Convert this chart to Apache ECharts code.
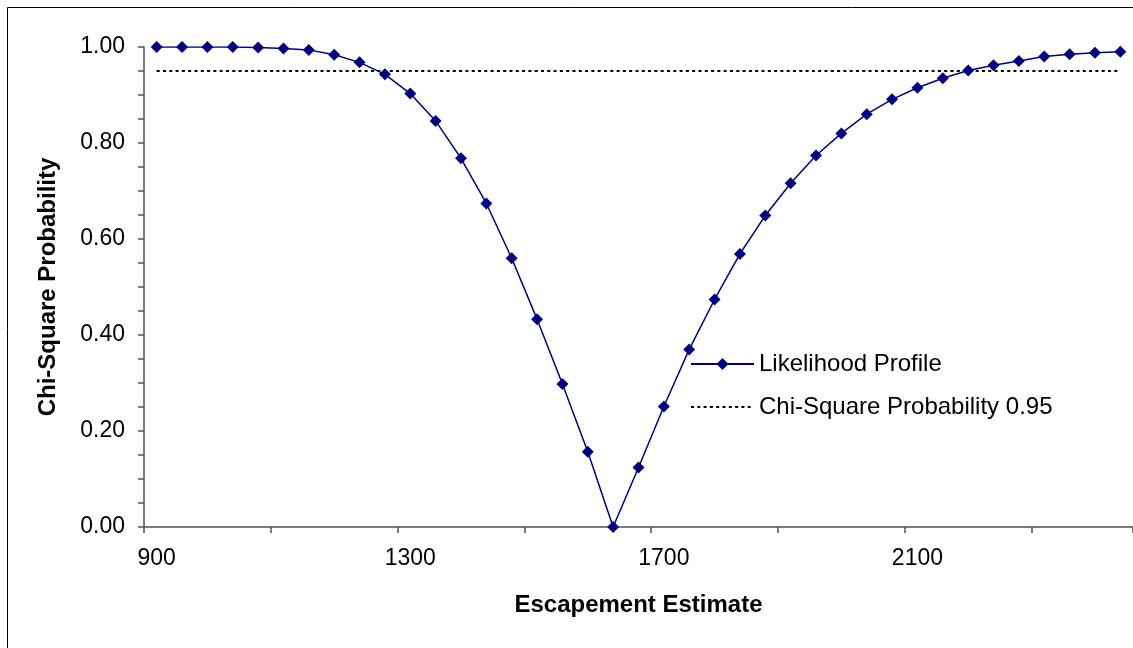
<!DOCTYPE html>
<html>
<head>
<meta charset="utf-8">
<title>Likelihood Profile</title>
<script src="https://cdn.jsdelivr.net/npm/echarts@6/dist/echarts.min.js"></script>
<style>
  html, body { margin: 0; padding: 0; background: #fff; }
  #chart { width: 1133px; height: 648px; }
</style>
</head>
<body>
<div id="chart"></div>
<script>
// Escapement estimates (category axis)
const categories = [
  '900', '940', '980', '1020', '1060', '1100', '1140', '1180', '1220', '1260',
  '1300', '1340', '1380', '1420', '1460', '1500', '1540', '1580', '1620', '1660',
  '1700', '1740', '1780', '1820', '1860', '1900', '1940', '1980', '2020', '2060',
  '2100', '2140', '2180', '2220', '2260', '2300', '2340', '2380', '2420'
];

// Chi-square probability of each escapement estimate
const likelihoodProfile = [
  1.000, 1.000, 1.000, 1.000, 0.999, 0.997, 0.994, 0.984, 0.968, 0.943,
  0.903, 0.846, 0.768, 0.674, 0.560, 0.433, 0.298, 0.157, 0.000, 0.124,
  0.251, 0.370, 0.474, 0.569, 0.649, 0.716, 0.774, 0.820, 0.860, 0.891,
  0.915, 0.935, 0.951, 0.962, 0.971, 0.980, 0.985, 0.988, 0.990
];

// 0.95 reference level
const chiSquare95 = [
  0.95, 0.95, 0.95, 0.95, 0.95, 0.95, 0.95, 0.95, 0.95, 0.95,
  0.95, 0.95, 0.95, 0.95, 0.95, 0.95, 0.95, 0.95, 0.95, 0.95,
  0.95, 0.95, 0.95, 0.95, 0.95, 0.95, 0.95, 0.95, 0.95, 0.95,
  0.95, 0.95, 0.95, 0.95, 0.95, 0.95, 0.95, 0.95, 0.95
];

const yTickLabels = ['0.00', '0.20', '0.40', '0.60', '0.80', '1.00'];

const FONT = '"Liberation Sans", Arial, sans-serif';
const AXIS_COLOR = '#505050';

const chart = echarts.init(document.getElementById('chart'), null, { renderer: 'canvas' });

chart.setOption({
  backgroundColor: '#ffffff',
  animation: false,
  graphic: [{
    type: 'rect',
    shape: { x: 7.5, y: 7.5, width: 1200, height: 700 },
    style: { fill: 'none', stroke: '#000000', lineWidth: 1 },
    silent: true
  }],
  grid: { left: 144, top: 47, width: 990.6, height: 480, containLabel: false },
  legend: {
    orient: 'vertical',
    left: 685,
    top: 347,
    itemWidth: 63,
    itemHeight: 15,
    itemGap: 19,
    textStyle: { fontFamily: FONT, fontSize: 24, color: '#000' },
    data: [
      { name: 'Likelihood Profile' },
      { name: 'Chi-Square Probability 0.95', itemStyle: { opacity: 0 } }
    ]
  },
  xAxis: {
    type: 'category',
    data: categories,
    boundaryGap: true,
    name: 'Escapement Estimate',
    nameLocation: 'middle',
    nameGap: 66,
    nameTextStyle: { fontFamily: FONT, fontSize: 24, fontWeight: 'bold', color: '#000' },
    axisLine: { lineStyle: { color: AXIS_COLOR, width: 1.5 } },
    axisTick: { show: true, interval: 4, length: 6, lineStyle: { color: AXIS_COLOR, width: 1.5 } },
    axisLabel: { interval: 9, margin: 20, fontFamily: FONT, fontSize: 23, color: '#000' },
    splitLine: { show: false }
  },
  yAxis: {
    type: 'value',
    min: 0,
    max: 1,
    interval: 0.05,
    name: 'Chi-Square Probability',
    nameLocation: 'middle',
    nameGap: 84,
    nameTextStyle: { fontFamily: FONT, fontSize: 24, fontWeight: 'bold', color: '#000' },
    axisLine: { show: true, lineStyle: { color: AXIS_COLOR, width: 1.5 } },
    axisTick: { show: true, length: 6, lineStyle: { color: AXIS_COLOR, width: 1.5 } },
    axisLabel: {
      margin: 19,
      fontFamily: FONT,
      fontSize: 23,
      color: '#000',
      formatter: function (v) {
        const label = v.toFixed(2);
        return yTickLabels.indexOf(label) >= 0 ? label : '';
      }
    },
    splitLine: { show: false }
  },
  series: [
    {
      name: 'Likelihood Profile',
      type: 'line',
      data: likelihoodProfile,
      symbol: 'diamond',
      symbolSize: 12,
      color: '#000080',
      itemStyle: { color: '#000080' },
      lineStyle: { color: '#000080', width: 1.5 },
      z: 3
    },
    {
      name: 'Chi-Square Probability 0.95',
      type: 'line',
      data: chiSquare95,
      symbol: 'none',
      color: '#000000',
      lineStyle: { color: '#000000', width: 2, type: [3, 3.3] },
      z: 2
    }
  ]
});
</script>
</body>
</html>
